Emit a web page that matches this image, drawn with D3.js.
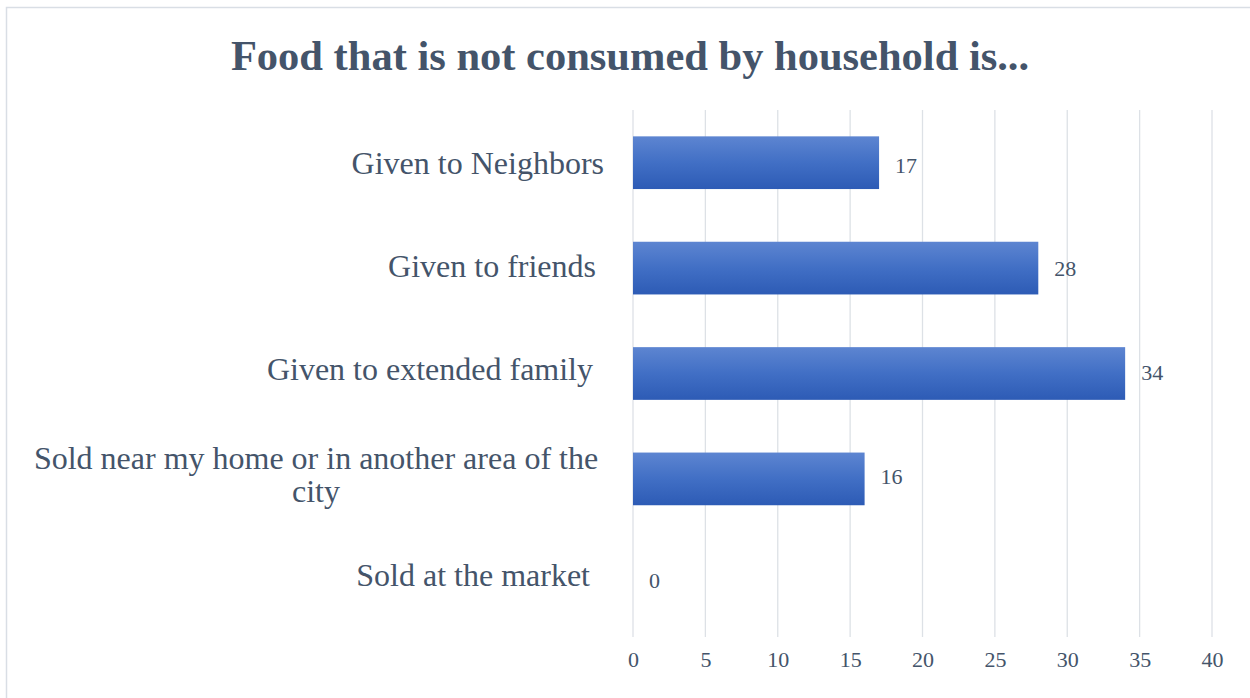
<!DOCTYPE html>
<html>
<head>
<meta charset="utf-8">
<script src="https://cdn.jsdelivr.net/npm/d3@7"></script>
<style>
  html, body { margin: 0; padding: 0; background: #ffffff; }
  svg { display: block; }
  text { font-family: "Liberation Serif", "Times New Roman", serif; fill: #44546A; }
</style>
</head>
<body>
<svg id="chart" width="1250" height="698"></svg>
<script>
// Chart content
const chartTitle = "Food that is not consumed by household is...";
const categories = [
  ["Given to Neighbors"],
  ["Given to friends"],
  ["Given to extended family"],
  ["Sold near my home or in another area of the", "city"],
  ["Sold at the market"]
];
const values = [17, 28, 34, 16, 0];
const tickValues = [0, 5, 10, 15, 20, 25, 30, 35, 40];

const W = 1250, H = 698;
const plot = { left: 633, right: 1212, top: 110, bottom: 637 };

const svg = d3.select("#chart");

// outer frame of the chart area
svg.append("rect")
  .attr("x", 6.5).attr("y", 7.5)
  .attr("width", W + 20).attr("height", H + 20)
  .attr("fill", "#ffffff")
  .attr("stroke", "#D9DEE5").attr("stroke-width", 1.5);

// bar gradient
const defs = svg.append("defs");
const grad = defs.append("linearGradient")
  .attr("id", "barGrad").attr("x1", 0).attr("y1", 0).attr("x2", 0).attr("y2", 1);
grad.append("stop").attr("offset", "0%").attr("stop-color", "#5D85D1");
grad.append("stop").attr("offset", "50%").attr("stop-color", "#416FC5");
grad.append("stop").attr("offset", "100%").attr("stop-color", "#2D5BB5");

const x = d3.scaleLinear().domain([0, 40]).range([plot.left, plot.right]);
const y = d3.scaleBand()
  .domain(d3.range(categories.length))
  .range([plot.top, plot.bottom])
  .paddingInner(0.5).paddingOuter(0.25);

// label rows sit on a slightly tighter pitch than the bars
const yCat = d3.scalePoint().domain(d3.range(categories.length)).range([163, 575]);
const yVal = d3.scalePoint().domain(d3.range(values.length)).range([165, 580]);

// vertical gridlines
svg.append("g")
  .selectAll("line")
  .data(tickValues)
  .join("line")
  .attr("x1", d => x(d)).attr("x2", d => x(d))
  .attr("y1", plot.top).attr("y2", plot.bottom)
  .attr("stroke", "#DDE1E6").attr("stroke-width", 1.3);

// x axis tick labels
const xAxis = d3.axisBottom(x).tickValues(tickValues).tickSize(0).tickPadding(14);
const gx = svg.append("g")
  .attr("transform", `translate(0,${plot.bottom})`)
  .call(xAxis);
gx.select(".domain").remove();
gx.selectAll("text")
  .attr("font-family", "Liberation Serif, Times New Roman, serif")
  .attr("font-size", 22)
  .attr("fill", "#44546A");

// bars
svg.append("g")
  .selectAll("rect")
  .data(values)
  .join("rect")
  .attr("x", x(0))
  .attr("y", (d, i) => y(i))
  .attr("width", d => x(d) - x(0))
  .attr("height", y.bandwidth())
  .attr("fill", "url(#barGrad)");

// value labels
svg.append("g")
  .selectAll("text")
  .data(values)
  .join("text")
  .attr("x", d => x(d) + 16)
  .attr("y", (d, i) => yVal(i))
  .attr("dy", "0.35em")
  .attr("font-size", 22)
  .text(d => d);

// category labels (right aligned; wrapped labels centered line by line)
const labelRight = 604;
const labelG = svg.append("g");
categories.forEach((lines, i) => {
  const cy = yCat(i);
  const n = lines.length;
  if (n === 1) {
    const trail = [0, 8, 11, 0, 14][i];
    labelG.append("text")
      .attr("font-size", 32)
      .attr("x", labelRight - trail)
      .attr("y", cy)
      .attr("dy", "0.35em")
      .attr("text-anchor", "end")
      .text(lines[0]);
  } else {
    const lh = 33;
    lines.forEach((ln, k) => {
      labelG.append("text")
        .attr("font-size", 32)
        .attr("text-anchor", "middle")
        .attr("x", 316)
        .attr("y", cy + 2 + (k - (n - 1) / 2) * lh)
        .attr("dy", "0.35em")
        .text(ln);
    });
  }
});

// title
svg.append("text")
  .attr("x", 630)
  .attr("y", 55)
  .attr("dy", "0.35em")
  .attr("text-anchor", "middle")
  .attr("font-size", 42.5)
  .attr("font-weight", "bold")
  .text(chartTitle);
</script>
</body>
</html>
